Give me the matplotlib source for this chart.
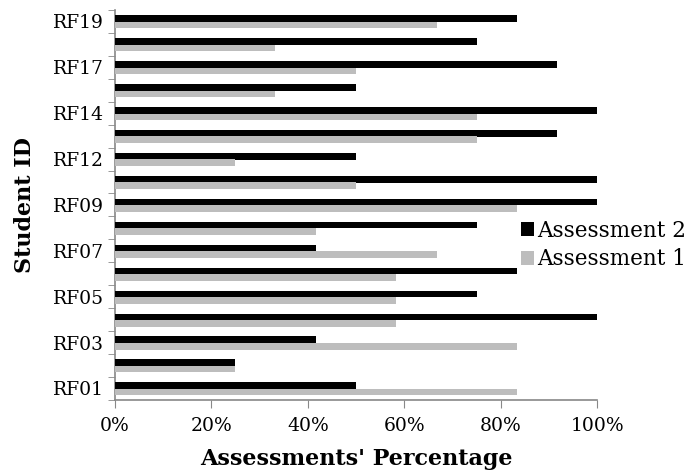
import numpy as np
import matplotlib.pyplot as plt
from matplotlib.ticker import PercentFormatter, FixedLocator

students = ["RF01", "RF02", "RF03", "RF04", "RF05", "RF06", "RF07", "RF08", "RF09",
            "RF11", "RF12", "RF13", "RF14", "RF16", "RF17", "RF18", "RF19"]
assessment_2 = [50.0, 25.0, 41.7, 100.0, 75.0, 83.3, 41.7, 75.0, 100.0,
                100.0, 50.0, 91.7, 100.0, 50.0, 91.7, 75.0, 83.3]
assessment_1 = [83.3, 25.0, 83.3, 58.3, 58.3, 58.3, 66.7, 41.7, 83.3,
                50.0, 25.0, 75.0, 75.0, 33.3, 50.0, 33.3, 66.7]

plt.rcParams['font.family'] = ['DejaVu Serif']

fig = plt.figure(figsize=(6.88, 4.76), dpi=100)
ax = fig.add_axes([0.167, 0.160, 0.701, 0.819])

y = np.arange(len(students))
h = 0.29
ax.barh(y + 0.12, assessment_2, height=h, color='black', label='Assessment 2', zorder=3)
ax.barh(y - 0.16, assessment_1, height=h, color='#bdbdbd', label='Assessment 1', zorder=3)

ax.set_xlim(0, 100)
ax.set_ylim(-0.5, len(students) - 0.5)
ax.xaxis.set_major_formatter(PercentFormatter(decimals=0))
ax.set_xticks(np.arange(0, 101, 20))

# labels on every other student, tick marks on category boundaries
ax.set_yticks(y[::2])
ax.set_yticklabels(students[::2])
ax.yaxis.set_minor_locator(FixedLocator(np.arange(-0.5, len(students), 1.0)))
ax.tick_params(axis='y', which='major', length=0, pad=8, labelsize=13.5)
ax.tick_params(axis='y', which='minor', length=5, color='#888888', direction='out')
ax.tick_params(axis='x', length=6, color='#888888', direction='out', labelsize=13.5, pad=6)

for side in ['top', 'right']:
    ax.spines[side].set_visible(False)
for side in ['left', 'bottom']:
    ax.spines[side].set_color('#888888')
    ax.spines[side].set_linewidth(1.2)

ax.set_xlabel("Assessments' Percentage", fontsize=16, fontweight='bold', labelpad=10)
ax.set_ylabel("Student ID", fontsize=16, fontweight='bold', labelpad=12)

handles, labels = ax.get_legend_handles_labels()
fig.legend(handles, labels, loc='center left', bbox_to_anchor=(0.745, 0.485),
           frameon=False, fontsize=15.5, handlelength=0.6, handleheight=0.6,
           handletextpad=0.15, labelspacing=0.3, borderaxespad=0)

fig.savefig('out.png', dpi=100)
